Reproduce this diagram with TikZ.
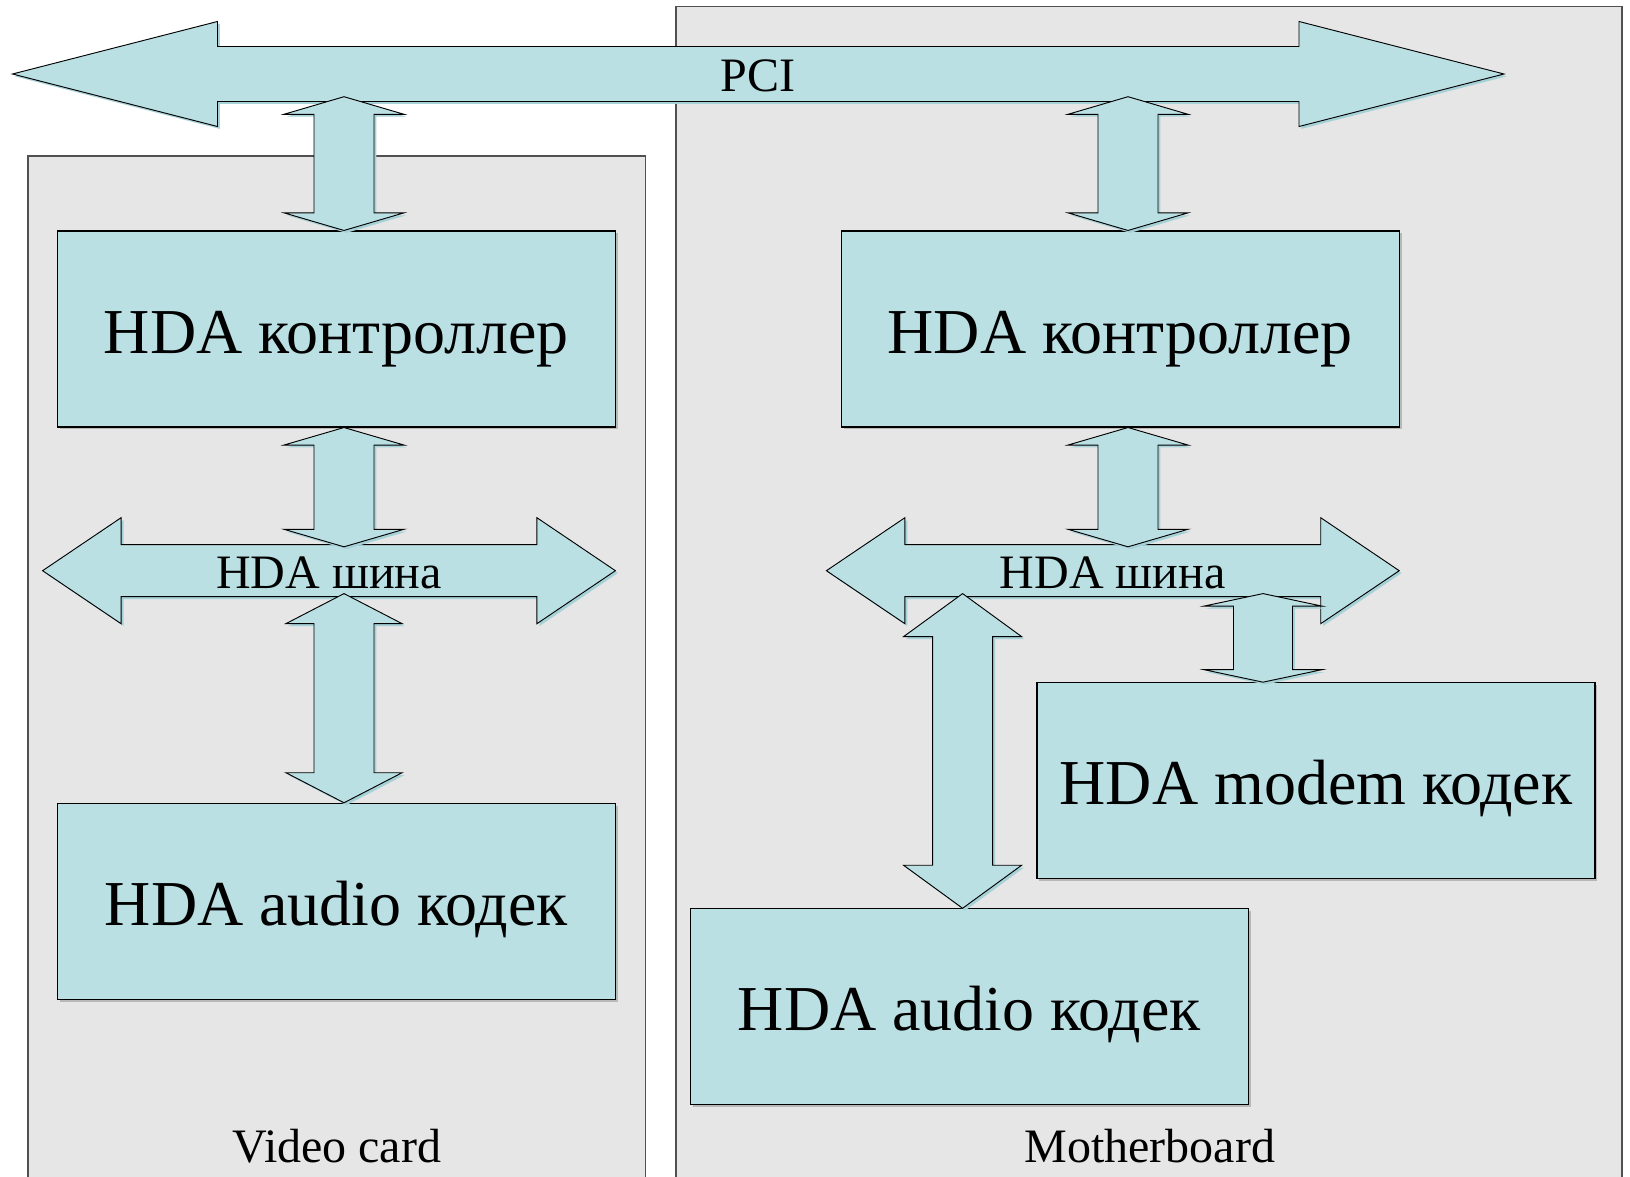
\documentclass[tikz,border=0pt]{standalone}
\usepackage{fontspec}
\setmainfont{Liberation Serif}
\usetikzlibrary{calc}

\definecolor{hdafill}{HTML}{BAE0E4}
\definecolor{hdashadow}{HTML}{A6D2D7}
\definecolor{boardfill}{HTML}{E6E6E6}
\definecolor{boardline}{HTML}{505050}
\definecolor{boxshadow}{HTML}{B8B8B8}

\tikzset{
  board/.style={draw=boardline, fill=boardfill, line width=0.8pt},
  fatarrow/.style={draw=black, fill=hdafill, line width=0.7pt, line join=miter,
    preaction={fill=hdashadow, transform canvas={shift={(1.8pt,-1.8pt)}}}},
  unitbox/.style={draw=black, fill=hdafill, line width=0.8pt,
    minimum width=418.5pt, minimum height=147pt, inner sep=0pt,
    font=\fontsize{48}{50}\selectfont, text height=36pt, text depth=0pt,
    preaction={fill=boxshadow, transform canvas={shift={(1.8pt,-1.8pt)}}}},
  buslabel/.style={inner sep=0pt, font=\fontsize{36}{40}\selectfont,
    text height=27pt, text depth=0pt},
  boardlabel/.style={inner sep=0pt, anchor=base, font=\fontsize{36}{40}\selectfont}
}

% vertical two-headed block arrow: top tip #1, bottom tip #2,
% shaft half width #3, head half width #4, head length #5 (all in px)
\newcommand\vlink[5]{%
  \draw[fatarrow] let \p1=(#1), \p2=(#2) in
    (\x1,\y1) -- (\x1+#4*0.75pt,\y1-#5*0.75pt) -- (\x1+#3*0.75pt,\y1-#5*0.75pt)
    -- (\x1+#3*0.75pt,\y2+#5*0.75pt) -- (\x1+#4*0.75pt,\y2+#5*0.75pt) -- (\x1,\y2)
    -- (\x1-#4*0.75pt,\y2+#5*0.75pt) -- (\x1-#3*0.75pt,\y2+#5*0.75pt)
    -- (\x1-#3*0.75pt,\y1-#5*0.75pt) -- (\x1-#4*0.75pt,\y1-#5*0.75pt) -- cycle;}

% horizontal two-headed bus arrow: left tip #1, right tip #2,
% shaft half height #3, head half height #4, head length #5 (all in px)
\newcommand\hbus[5]{%
  \draw[fatarrow] let \p1=(#1), \p2=(#2) in
    (\x1,\y1) -- (\x1+#5*0.75pt,\y1+#4*0.75pt) -- (\x1+#5*0.75pt,\y1+#3*0.75pt)
    -- (\x2-#5*0.75pt,\y1+#3*0.75pt) -- (\x2-#5*0.75pt,\y1+#4*0.75pt) -- (\x2,\y1)
    -- (\x2-#5*0.75pt,\y1-#4*0.75pt) -- (\x2-#5*0.75pt,\y1-#3*0.75pt)
    -- (\x1+#5*0.75pt,\y1-#3*0.75pt) -- (\x1+#5*0.75pt,\y1-#4*0.75pt) -- cycle;}

\begin{document}
\begin{tikzpicture}[x=0.75pt, y=-0.75pt]
  \clip (0,0) rectangle (1630,1177);
  \fill[white] (0,0) rectangle (1630,1177);

  % boards
  \draw[board] (28,156) rectangle (645.5,1200);
  \draw[board] (676,6.5) rectangle (1622,1200);

  % PCI bus
  \coordinate (pciW) at (12.5,74);
  \coordinate (pciE) at (1504,74);
  \hbus{pciW}{pciE}{27.5}{52.5}{205}

  % functional blocks
  \node[unitbox] (ctrlL) at (336.3,329)   {HDA контроллер};
  \node[unitbox] (ctrlR) at (1120.1,329)  {HDA контроллер};
  \node[unitbox] (audL)  at (336.3,901.3) {HDA audio кодек};
  \node[unitbox] (audR)  at (969.3,1006.8){HDA audio кодек};
  \node[unitbox] (modem) at (1316,780.7)  {HDA modem кодек};

  % HDA buses
  \coordinate (busLW) at (42.6,570.7);
  \coordinate (busLE) at (615.4,570.7);
  \coordinate (busRW) at (826.4,570.7);
  \coordinate (busRE) at (1399.2,570.7);
  \hbus{busLW}{busLE}{26}{53}{78.5}
  \hbus{busRW}{busRE}{26}{53}{78.5}

  % tap points on the buses
  \coordinate (pciTapL) at (344,96.7);
  \coordinate (pciTapR) at (1128,96.7);
  \coordinate (busLin)  at (344,546.8);
  \coordinate (busRin)  at (1128,546.8);
  \coordinate (busLout) at (344,593.6);
  \coordinate (busRaud) at (962.6,593.6);
  \coordinate (busRmod) at (1263,593.6);

  % links
  \vlink{pciTapL}{pciTapL |- ctrlL.north}{30}{60}{17.6}
  \vlink{pciTapR}{pciTapR |- ctrlR.north}{30}{60}{17.6}
  \vlink{pciTapL |- ctrlL.south}{busLin}{30}{60}{17.5}
  \vlink{pciTapR |- ctrlR.south}{busRin}{30}{60}{17.5}
  \vlink{busLout}{busLout |- audL.north}{30}{58}{30}
  \vlink{busRaud}{busRaud |- audR.north}{30}{59}{43}
  \vlink{busRmod}{busRmod |- modem.north}{29.5}{59}{12.5}

  % bus labels
  \node[buslabel] (pci)  at (758.3,74)  {PCI};
  \node[buslabel] (busL) at (329,570.7) {HDA шина};
  \node[buslabel] (busR) at (1112.8,570.7) {HDA шина};

  % board labels
  \node[boardlabel] (vclabel) at (336.8,1162) {Video card};
  \node[boardlabel] (mblabel) at (1149.7,1162) {Motherboard};
\end{tikzpicture}
\end{document}
